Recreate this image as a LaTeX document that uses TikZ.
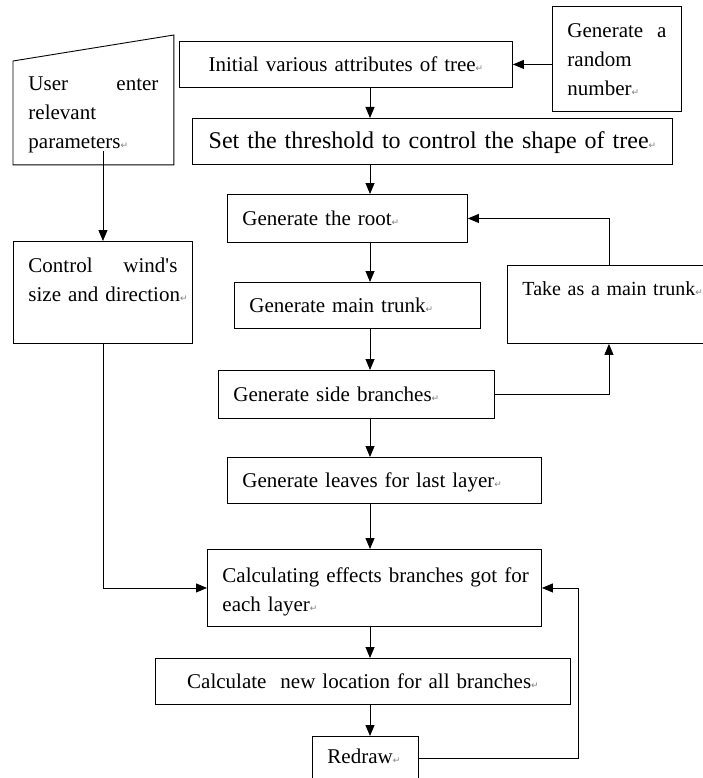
\documentclass[tikz,border=0pt]{standalone}
\usepackage{fontspec}
\setmainfont{Liberation Serif}
\newfontfamily\markfont{DejaVu Sans}
\usetikzlibrary{arrows.meta,positioning,calc}
\newcommand{\ret}{{\markfont\fontsize{9}{9}\selectfont\color{gray}↵}}
\newcommand{\spread}[1]{\makebox[\hsize][s]{#1}}
\tikzset{stepbox/.style n args={3}{draw, line width=0.9pt, inner xsep=15pt, inner ysep=0pt,
    align=left, anchor=north west, text width=#1pt, text height=#2pt, text depth=#3pt,
    font=\fontsize{21}{29}\selectfont},
%arrows of the flow
flow/.style={draw, line width=0.9pt, -{Triangle[length=11pt,width=9pt]}}}

\begin{document}
\begin{tikzpicture}[x=1pt, y=-1pt]

\useasboundingbox (0,0) rectangle (702,778);
\coordinate (spine) at (370,0);

\node[stepbox={130}{29}{74}, draw=none] (user) at (13,61) {User\hfill enter\\relevant\\parameters\ret};
\draw[line width=0.9pt] (user.south west) -- (user.south east) -- ([yshift=26pt]user.north east) -- (user.north west) -- cycle;

\node[stepbox={303}{30}{16}, align=center] (init) at (179,41) {Initial various attributes of tree\ret};
\node[stepbox={99}{31}{74}] (rand) at (552,6) {Generate\hfill a\\random\\number\ret};
\node[stepbox={450}{30}{16}, align=center, font=\fontsize{24}{29}\selectfont] (thr) at (192,118) {Set the threshold to control the shape of tree\ret};
\node[stepbox={210}{31}{17}] (root) at (227,194) {Generate the root\ret};
\node[stepbox={149}{31}{71}] (wind) at (13,241) {Control\hfill wind\textquotesingle s\\\mbox{size and direction\ret}};
\node[stepbox={216}{30}{16}] (trunk) at (234,282) {Generate main trunk\ret};
\node[stepbox={173}{30}{48}, font=\fontsize{20}{29}\selectfont] (take) at (507,265) {\mbox{Take as a main trunk\ret}};
\node[stepbox={246}{31}{17}] (side) at (218,370) {Generate side branches\ret};
\node[stepbox={284}{30}{16}] (leaves) at (227,457) {Generate leaves for last layer\ret};
\node[stepbox={304}{33}{44}] (calc) at (207,549) {\spread{Calculating effects branches got for}\\each layer\ret};
\node[stepbox={385}{30}{16}, align=center] (newloc) at (155,658) {Calculate\ \ new location for all branches\ret};
\node[stepbox={76}{27}{17}] (redraw) at (312,736) {\mbox{Redraw\ret}};

\foreach \a/\b in {init/thr, thr/root, root/trunk, trunk/side, side/leaves, leaves/calc, calc/newloc, newloc/redraw}
  \draw[flow] (\a.south -| spine) -- (\b.north -| spine);

\draw[flow] (rand.west |- init.east) -- (init.east);
\draw[flow] ([yshift=14pt]user.south -| wind.north) -- (wind.north);
\draw[flow] (wind.south) |- (calc.west);
\draw[flow] (side.east) -| (take.south);
\draw[flow] (take.north) |- (root.east);
\draw[flow] (redraw.east) -- ++(160,0) |- (calc.east);

\end{tikzpicture}
\end{document}
